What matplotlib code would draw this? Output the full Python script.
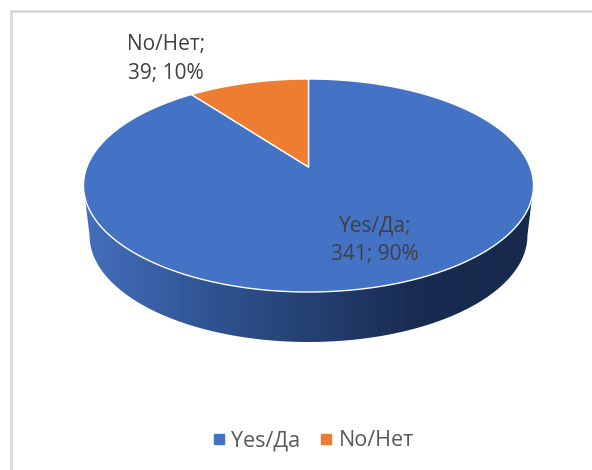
import numpy as np
import matplotlib
matplotlib.use("Agg")
import matplotlib.pyplot as plt
from matplotlib.patches import Polygon
from matplotlib.lines import Line2D

labels = ["Yes/Да", "No/Нет"]
values = [341, 39]
percents = ["90%", "10%"]
colors = ["#4472C4", "#ED7D31"]

W, H = 592, 470
plt.rcParams['font.family'] = ['Open Sans', 'DejaVu Sans']
fig = plt.figure(figsize=(W / 100, H / 100), dpi=100)
ax = fig.add_axes([0, 0, 1, 1])
ax.set_xlim(0, W)
ax.set_ylim(H, 0)
ax.axis("off")

# perspective projection of a unit circle
CX, CY, B, C, K = 308.5, 185.5, 106.5, 18.5, 0.1737
A = 225 * np.sqrt(1 - K ** 2)


def rim(theta):
    u, v = np.sin(theta), np.cos(theta)
    d = 1 + K * v
    return CX + A * u / d, CY - (B * v + C) / d


apex = (CX, CY - C)
total = sum(values)

# side wall
edge = np.arccos(-K)
t = np.linspace(edge, 2 * np.pi - edge, 300)
xt, yt = rim(t)
order = np.argsort(xt)
xt, yt = xt[order], yt[order]
xb = CX + (xt - CX) * 0.973
yb = yt + 50
side = Polygon(np.r_[np.c_[xt, yt], np.c_[xb, yb][::-1]], closed=True,
               facecolor="none", edgecolor="none")
ax.add_patch(side)
grad = np.array([0.0, 0.30, 0.55, 0.75, 1.0])
stops = np.array([[0x44, 0x6F, 0xBD], [0x2F, 0x52, 0x8F], [0x22, 0x3C, 0x6C],
                  [0x18, 0x2B, 0x50], [0x17, 0x29, 0x4D]]) / 255
xs = np.linspace(0, 1, 256)
img = np.stack([np.interp(xs, grad, stops[:, i]) for i in range(3)], axis=-1)[None, :, :]
im = ax.imshow(img, extent=(xt.min(), xt.max(), 345, 180), aspect="auto", zorder=1)
im.set_clip_path(side)
ax.set_xlim(0, W)
ax.set_ylim(H, 0)

# top face: slices run clockwise from 12 o'clock, first slice first
start = 0.0
for val, col in zip(values, colors):
    end = start + 2 * np.pi * val / total
    th = np.linspace(start, end, 400)
    x, y = rim(th)
    pts = np.r_[[apex], np.c_[x, y]]
    ax.add_patch(Polygon(pts, closed=True, facecolor=col, edgecolor="white",
                         linewidth=1.0, zorder=3, joinstyle="round"))
    start = end

# data labels
tc = "#404040"
ax.text(375, 240, f"{labels[0]};\n{values[0]}; {percents[0]}", ha="center", va="center",
        fontsize=15, color=tc, linespacing=1.5, zorder=5)
ax.text(166, 59, f"{labels[1]};\n{values[1]}; {percents[1]}", ha="center", va="center",
        fontsize=15, color=tc, linespacing=1.5, zorder=5)

# chart frame
frame = "#D9D9D9"
ax.add_line(Line2D([11, 11], [470, 11], color=frame, lw=2, zorder=0))
ax.add_line(Line2D([11, 592], [11, 11], color=frame, lw=2, zorder=0))

# legend
handles = [Line2D([], [], linestyle="none", marker="s", markersize=6.5, color=c) for c in colors]
ax.legend(handles, labels, loc="center", bbox_to_anchor=(309 / W, 1 - 441 / H), ncol=2,
          frameon=False, fontsize=15.5, labelcolor="#595959", handletextpad=-0.1,
          columnspacing=0.5, handlelength=1.4)

fig.savefig("out.png", dpi=100)
